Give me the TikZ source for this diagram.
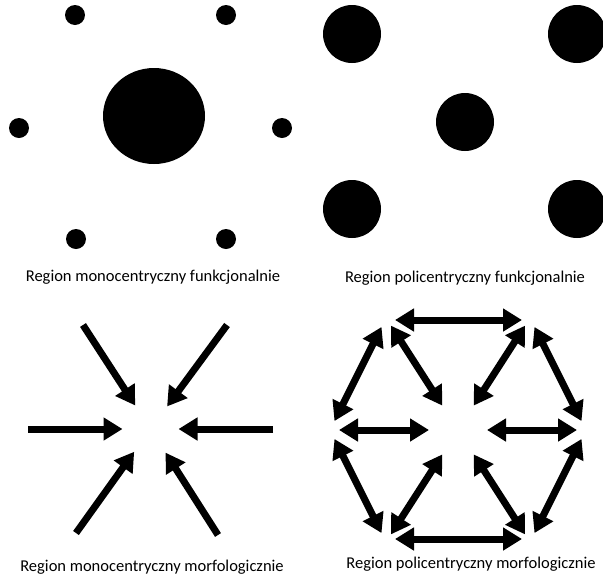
\documentclass[tikz,border=0pt]{standalone}
\usepackage{fontspec}
\setmainfont{Carlito}
\usetikzlibrary{arrows.meta}

\begin{document}
\begin{tikzpicture}[x=1pt,y=-1pt,
    dot/.style={fill=black},
    podpis/.style={font=\fontsize{16.5}{19}\selectfont, inner sep=0pt},
    strz/.style={line width=7pt, -{Triangle[width=22pt,length=19pt]}},
    dstrz/.style={line width=7pt, {Triangle[width=22pt,length=19pt]}-{Triangle[width=22pt,length=19pt]}}
]
\useasboundingbox (0,0) rectangle (603,582);

% monocentryczny funkcjonalnie
\fill[dot] (154,116) ellipse (51 and 48);
\fill[dot] (75,15) circle (10);
\fill[dot] (226,15) circle (10);
\fill[dot] (19,128) circle (10);
\fill[dot] (282,128) circle (10);
\fill[dot] (76,239) circle (10);
\fill[dot] (226,239) circle (10);
\node[podpis] (monof) at (153,277) {Region monocentryczny funkcjonalnie};

% policentryczny funkcjonalnie
\fill[dot] (352,34) circle (29);
\fill[dot] (577,34) circle (29);
\fill[dot] (465,122) circle (29);
\fill[dot] (352,209) circle (29);
\fill[dot] (577,209) circle (29);
\node[podpis] (polif) at (465,278) {Region policentryczny funkcjonalnie};

% monocentryczny morfologicznie
\coordinate (m0) at (150.5,429);
\coordinate (m1) at (28,429);
\coordinate (m2) at (273,429);
\coordinate (m3) at (83,325);
\coordinate (m4) at (227,325);
\coordinate (m5) at (76,533);
\coordinate (m6) at (218,535);
\foreach \k in {1,...,6}
    \draw[strz, shorten >=28pt] (m\k) -- (m0);
\node[podpis] (monom) at (152,567) {Region monocentryczny morfologicznie};

% policentryczny morfologicznie
\coordinate (c) at (458,430);
\coordinate (tl) at (386,318);
\coordinate (tr) at (530,318);
\coordinate (l) at (330,430);
\coordinate (r) at (586,430);
\coordinate (bl) at (386,542);
\coordinate (br) at (530,542);
\draw[dstrz, shorten <=9pt, shorten >=8pt] ([yshift=-2pt]tl) -- ([yshift=-2pt]tr);
\draw[dstrz, shorten <=9pt, shorten >=8pt] ([yshift=3pt]bl) -- ([yshift=3pt]br);
\draw[dstrz, shorten <=10pt, shorten >=10pt] (tl) -- (l);
\draw[dstrz, shorten <=10pt, shorten >=10pt] (l) -- (bl);
\draw[dstrz, shorten <=10pt, shorten >=10pt] (tr) -- (r);
\draw[dstrz, shorten <=10pt, shorten >=10pt] (r) -- (br);
\foreach \v in {tl,tr,l,r,bl,br}
    \draw[dstrz, shorten <=9pt, shorten >=29pt] (\v) -- (c);
\node[podpis] (polim) at (471,564) {Region policentryczny morfologicznie};
\end{tikzpicture}
\end{document}
